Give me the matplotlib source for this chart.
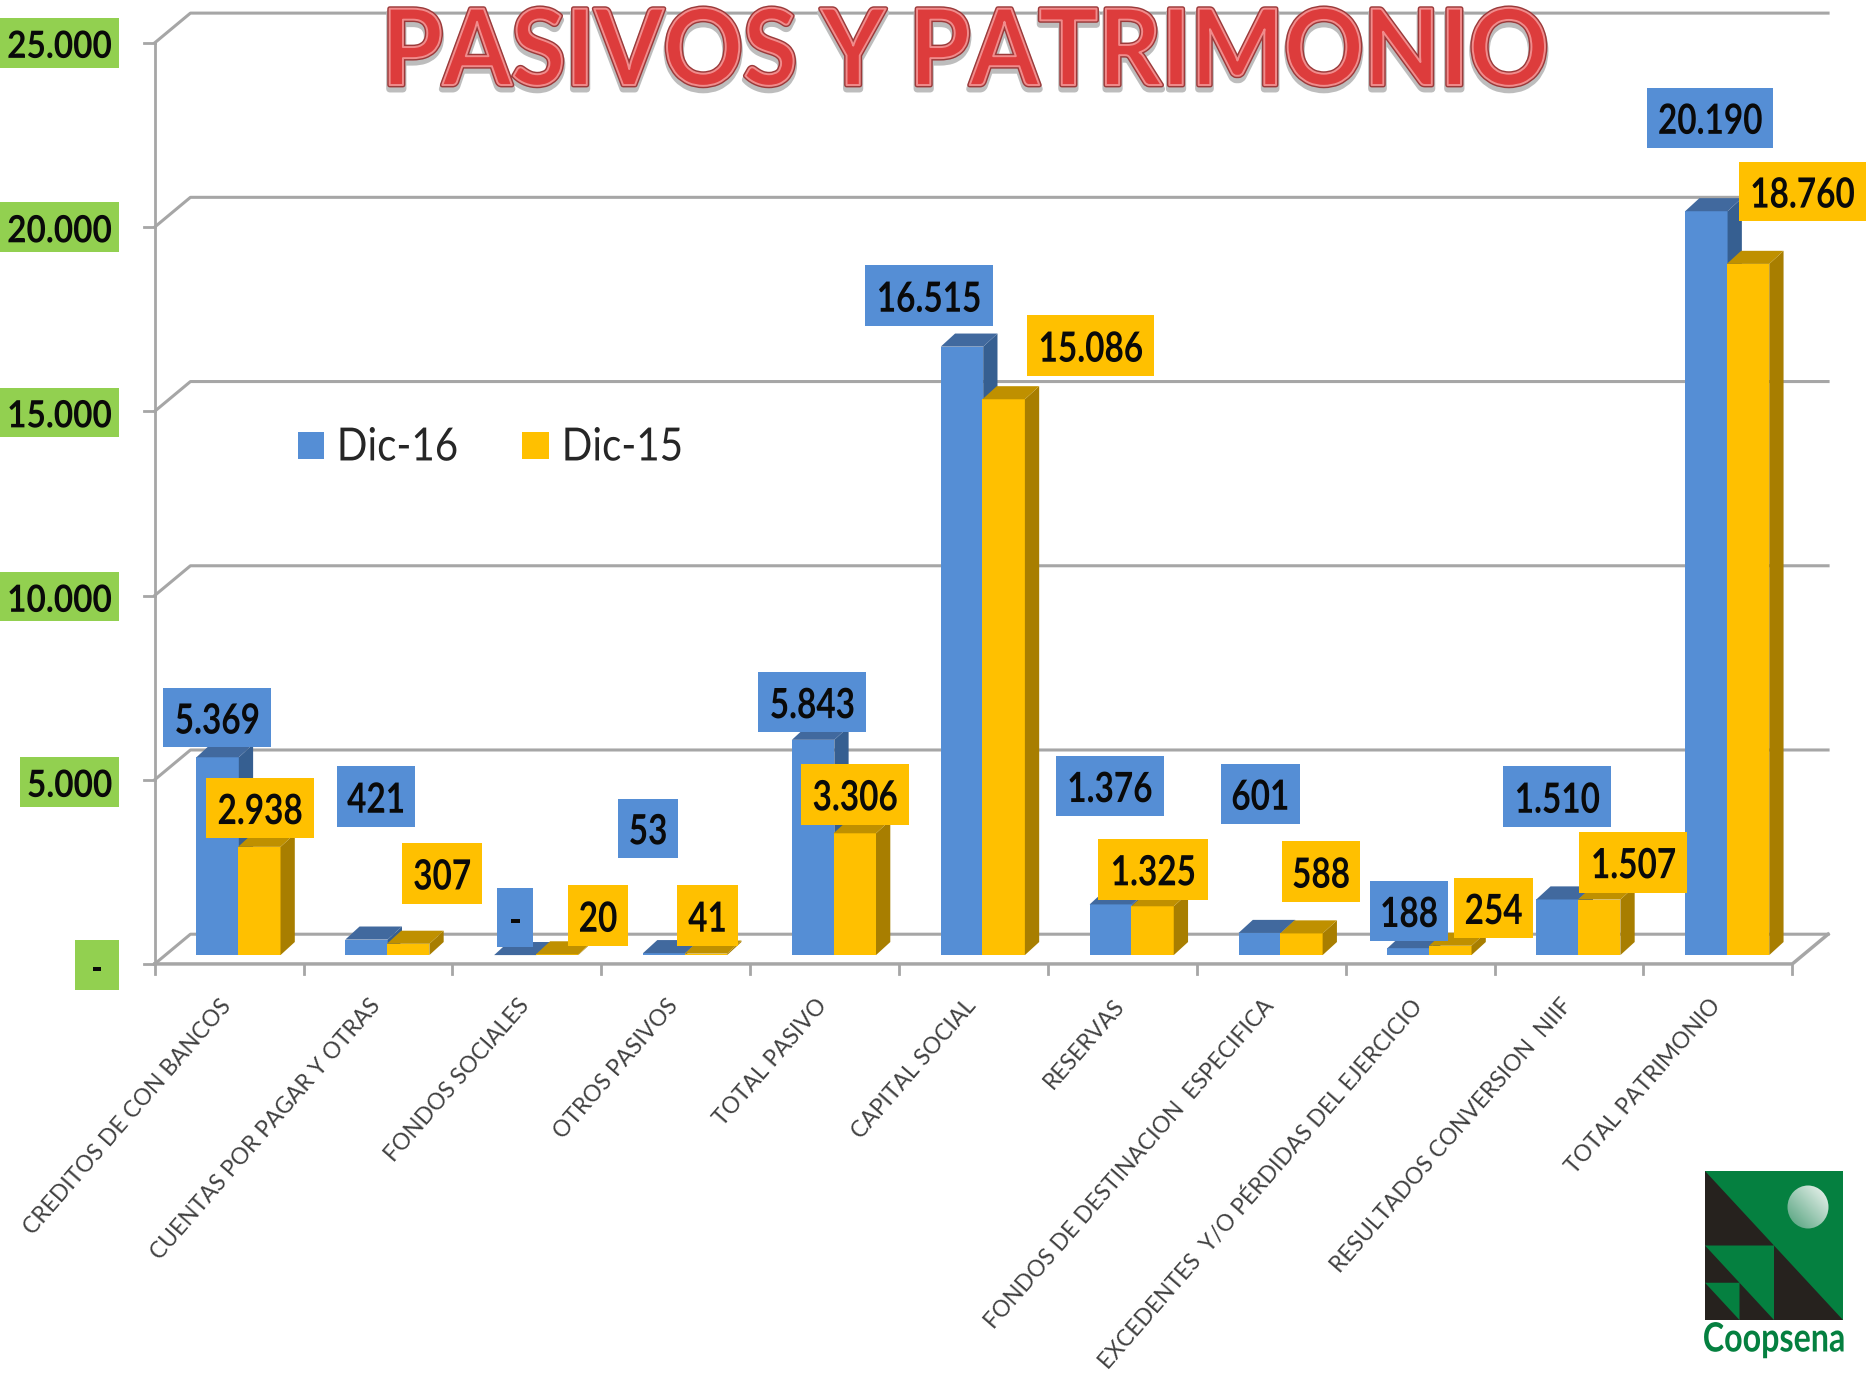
import numpy as np
import matplotlib
matplotlib.use("Agg")
import matplotlib.pyplot as plt
import matplotlib.patheffects as pe
from matplotlib.patches import Rectangle, Polygon, Ellipse
from matplotlib.transforms import Affine2D

plt.rcParams['font.family'] = ['Lato', 'DejaVu Sans']

categories = ["CREDITOS DE CON BANCOS", "CUENTAS POR PAGAR Y OTRAS", "FONDOS SOCIALES", "OTROS PASIVOS",
              "TOTAL PASIVO", "CAPITAL SOCIAL", "RESERVAS", "FONDOS DE DESTINACION  ESPECIFICA",
              "EXCEDENTES  Y/O PÉRDIDAS DEL EJERCICIO", "RESULTADOS CONVERSION  NIIF", "TOTAL PATRIMONIO"]
dic16 = [5369, 421, 0, 53, 5843, 16515, 1376, 601, 188, 1510, 20190]
dic15 = [2938, 307, 20, 41, 3306, 15086, 1325, 588, 254, 1507, 18760]
yticks = [0, 5000, 10000, 15000, 20000, 25000]

# label boxes as x0, x1, y0, y1
boxes16 = [(137, 228, 578, 628), (283, 349, 644, 695), (418, 448, 746, 796), (519, 570, 671, 721),
           (637, 728, 565, 615), (727, 834, 223, 274), (887, 978, 635, 686), (1026, 1092, 642, 692),
           (1151, 1217, 740, 791), (1263, 1354, 644, 695), (1384, 1490, 74, 124)]
boxes15 = [(173, 264, 654, 704), (338, 405, 708, 760), (477, 528, 744, 795), (569, 620, 744, 795),
           (673, 764, 642, 693), (863, 970, 265, 316), (923, 1015, 705, 756), (1077, 1143, 707, 758),
           (1222, 1288, 738, 788), (1327, 1418, 699, 750), (1461, 1568, 136, 186)]
tick_boxes = [(63, 100, 790, 832), (17, 100, 636, 678), (0, 100, 481, 522),
              (0, 100, 326, 367), (0, 100, 170, 212), (0, 100, 15, 57)]

W, H = 1866, 1373
S = W / 1568
BLUE, BLUE_SIDE, BLUE_TOP = '#558ED5', '#365F91', '#41699E'
ORANGE, ORANGE_SIDE, ORANGE_TOP = '#FFC000', '#A87E00', '#BF9000'
GRID = '#A6A6A6'


def fmt(v):
    return "-" if v == 0 else f"{v:,}".replace(",", ".")


# draws a text squeezed sideways, the reference text is narrower and taller than Lato
class Squeeze(pe.AbstractPathEffect):
    def __init__(self, sx, cx, color=None, lw=0, dy=0, fill=True):
        super().__init__()
        self.sx, self.cx, self.color, self.lw, self.dy, self.fill = sx, cx, color, lw, dy, fill

    def draw_path(self, renderer, gc, tpath, affine, rgbFace=None):
        a = affine + Affine2D().translate(-self.cx, self.dy).scale(self.sx, 1).translate(self.cx, 0)
        gc0 = renderer.new_gc()
        gc0.copy_properties(gc)
        if self.color is not None:
            gc0.set_foreground(self.color)
        gc0.set_linewidth(self.lw)
        face = rgbFace if self.color is None else (matplotlib.colors.to_rgb(self.color) if self.fill else None)
        renderer.draw_path(gc0, tpath, a, face)
        gc0.restore()


fig = plt.figure(figsize=(W / 100, H / 100), dpi=100)
ax = fig.add_axes([0, 0, 1, 1])
ax.axis('off')
x_px = 125.1 * S
y_px = 0.03096 * S
ax.set_xlim(-130 * S / x_px, (W - 130 * S) / x_px)
ax.set_ylim(-(H - 810 * S) / y_px, 810 * S / y_px)

# walls
wall_dx, wall_dy = 0.24, 807
n = len(categories)
for t in yticks:
    ax.plot([0, wall_dx, n + wall_dx], [t, t + wall_dy, t + wall_dy], color=GRID, lw=2.2, zorder=1)
    ax.plot([-0.07, 0], [t, t], color=GRID, lw=2, zorder=1)
ax.plot([0, 0], [0, 25000], color=GRID, lw=2, zorder=1)
ax.plot([0, n, n + wall_dx], [0, 0, wall_dy], color=GRID, lw=2.5, zorder=1)
for i in range(n + 1):
    ax.plot([i, i], [0, -260], color=GRID, lw=2, zorder=1)

# bars
base = 240
bar_dx, bar_dy = 0.096, 355
lefts = [0.28, 0.56]
width = 0.285
series = [(dic16, BLUE, BLUE_SIDE, BLUE_TOP), (dic15, ORANGE, ORANGE_SIDE, ORANGE_TOP)]
for i in range(n):
    for (vals, c, side, top), off in zip(series, lefts):
        x0 = i + off
        x1 = x0 + width
        v = vals[i] + base
        ax.bar(x0, vals[i], width=width, bottom=base, align='edge', color=c, zorder=3)
        ax.fill([x1, x1 + bar_dx, x1 + bar_dx, x1], [base, base + bar_dy, v + bar_dy, v], color=side, lw=0, zorder=3)
        ax.fill([x0, x1, x1 + bar_dx, x0 + bar_dx], [v, v, v + bar_dy, v + bar_dy], color=top, lw=0, zorder=3)


def box(b, text, color, size=30, sx=0.8):
    x0, x1, y0, y1 = [q * S for q in b]
    ax.add_patch(Rectangle((x0 / W, 1 - y1 / H), (x1 - x0) / W, (y1 - y0) / H, transform=ax.transAxes,
                           color=color, lw=0, zorder=5))
    cx = (x0 + x1) / 2
    ax.text(cx / W, 1 - ((y0 + y1) / 2 + 4) / H, text, transform=ax.transAxes, ha='center', va='center',
            fontsize=size, color='#0A0A0A', zorder=6, fontweight='bold',
            path_effects=[Squeeze(sx, cx)])


for i in range(n):
    box(boxes16[i], fmt(dic16[i]), BLUE)
    box(boxes15[i], fmt(dic15[i]), ORANGE)
for t, b in zip(yticks, tick_boxes):
    box(b, fmt(t), '#92D050', size=27, sx=0.89)

# category labels
for i, c in enumerate(categories):
    ax.text(i + 0.49, -1040, c, rotation=49, rotation_mode='anchor', ha='right', va='center',
            fontsize=16.4, color='#404040', zorder=4)

# legend
for lx, lab, c in [(250, "Dic-16", BLUE), (439, "Dic-15", ORANGE)]:
    ax.add_patch(Rectangle((lx * S / W, 1 - 386 * S / H), 22 * S / W, 23 * S / H, transform=ax.transAxes,
                           color=c, lw=0, zorder=5))
    tx = (lx + 33) * S
    ax.text(tx / W, 1 - 376 * S / H, lab, transform=ax.transAxes, ha='left', va='center',
            fontsize=33, color='#262626', zorder=5, path_effects=[Squeeze(0.88, tx)])

# title
ax.text(965 / W, 1 - 55 / H, "PASIVOS Y PATRIMONIO", transform=ax.transAxes, ha='center', va='center',
        fontweight='bold', fontsize=76, color='#DD3C3C', zorder=7,
        path_effects=[Squeeze(0.935, 965, color='#BDBDBD', lw=5, dy=-4),
                      Squeeze(0.935, 965, color='#9C3A3A', lw=3.5),
                      Squeeze(0.935, 965),
                      Squeeze(0.935, 965, color='#F08C8C', lw=1.4, fill=False)])

# logo
lx0, lx1, ly0, ly1 = 1705, 1843, 1171, 1320
dark, green = '#26221E', '#058040'


def logo_poly(pts, color):
    xy = [((lx0 + a * (lx1 - lx0)) / W, 1 - (ly0 + b * (ly1 - ly0)) / H) for a, b in pts]
    ax.add_patch(Polygon(xy, closed=True, transform=ax.transAxes, color=color, lw=0, zorder=5))


logo_poly([(0, 0), (1, 0), (1, 1), (0, 1)], green)
logo_poly([(0, 0), (0.5, 0.5), (0, 0.5)], dark)
logo_poly([(0.5, 0.5), (1, 1), (0.5, 1)], dark)
logo_poly([(0, 0.5), (0.25, 0.75), (0, 0.75)], dark)
logo_poly([(0.25, 0.75), (0.5, 1), (0.25, 1)], dark)
logo_poly([(0, 0.75), (0.25, 1), (0, 1)], dark)

yy, xx = np.mgrid[0:1:60j, 0:1:60j]
grad = xx * 0.6 + (1 - yy) * 0.6
moon = ax.imshow(grad, extent=[1787 / W, 1829 / W, 1 - 1229 / H, 1 - 1185 / H], transform=ax.transAxes,
                 cmap=matplotlib.colors.LinearSegmentedColormap.from_list('m', ['#4C9E78', '#F4F8F5']),
                 aspect='auto', zorder=6, origin='upper')
clip = Ellipse((1808 / W, 1 - 1207 / H), 41 / W, 43 / H, transform=ax.transAxes)
moon.set_clip_path(clip)
ax.set_xlim(-130 * S / x_px, (W - 130 * S) / x_px)
ax.set_ylim(-(H - 810 * S) / y_px, 810 * S / y_px)
ax.text(1774 / W, 1 - 1340 / H, "Coopsena", transform=ax.transAxes, ha='center', va='center',
        fontweight='bold', fontsize=29, color=green, zorder=6, path_effects=[Squeeze(0.8, 1774)])

fig.savefig("out.png", dpi=100)
